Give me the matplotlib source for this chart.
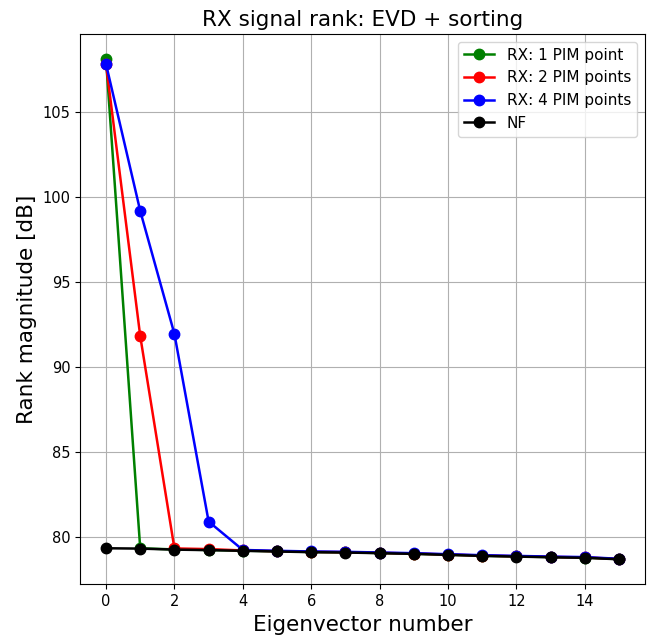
import numpy as np
import matplotlib
matplotlib.use('Agg')
import matplotlib.pyplot as plt

# eigenvalue magnitudes [dB]
eig_idx = np.arange(16)
nf = [79.31, 79.29, 79.23, 79.20, 79.16, 79.12, 79.08, 79.06,
      79.02, 78.98, 78.92, 78.86, 78.82, 78.78, 78.75, 78.66]
rx1 = [108.1, 79.31, 79.24, 79.21, 79.17, 79.13, 79.09, 79.07,
       79.03, 78.99, 78.93, 78.87, 78.83, 78.79, 78.76, 78.67]
rx2 = [107.8, 91.8, 79.30, 79.26, 79.18, 79.14, 79.10, 79.08,
       79.04, 79.00, 78.94, 78.88, 78.84, 78.80, 78.77, 78.68]
rx4 = [107.8, 99.16, 91.92, 80.88, 79.21, 79.16, 79.12, 79.10,
       79.06, 79.02, 78.96, 78.90, 78.86, 78.82, 78.79, 78.69]

fig = plt.figure(figsize=(6.48, 6.4), dpi=100)
ax = fig.add_axes([0.124, 0.087, 0.871, 0.86])

style = dict(marker='o', markersize=7.5, linewidth=1.8)
ax.plot(eig_idx, rx1, color='green', label='RX: 1 PIM point', **style)
ax.plot(eig_idx, rx2, color='red', label='RX: 2 PIM points', **style)
ax.plot(eig_idx, rx4, color='blue', label='RX: 4 PIM points', **style)
ax.plot(eig_idx, nf, color='black', label='NF', **style)

ax.grid(True)
ax.set_xticks(range(0, 16, 2))
ax.set_title('RX signal rank: EVD + sorting', fontsize=15.5)
ax.set_xlabel('Eigenvector number', fontsize=15.5)
ax.set_ylabel('Rank magnitude [dB]', fontsize=15.5)
ax.tick_params(labelsize=10.5)
ax.legend(loc='upper right', fontsize=11)

plt.savefig('out.png')
